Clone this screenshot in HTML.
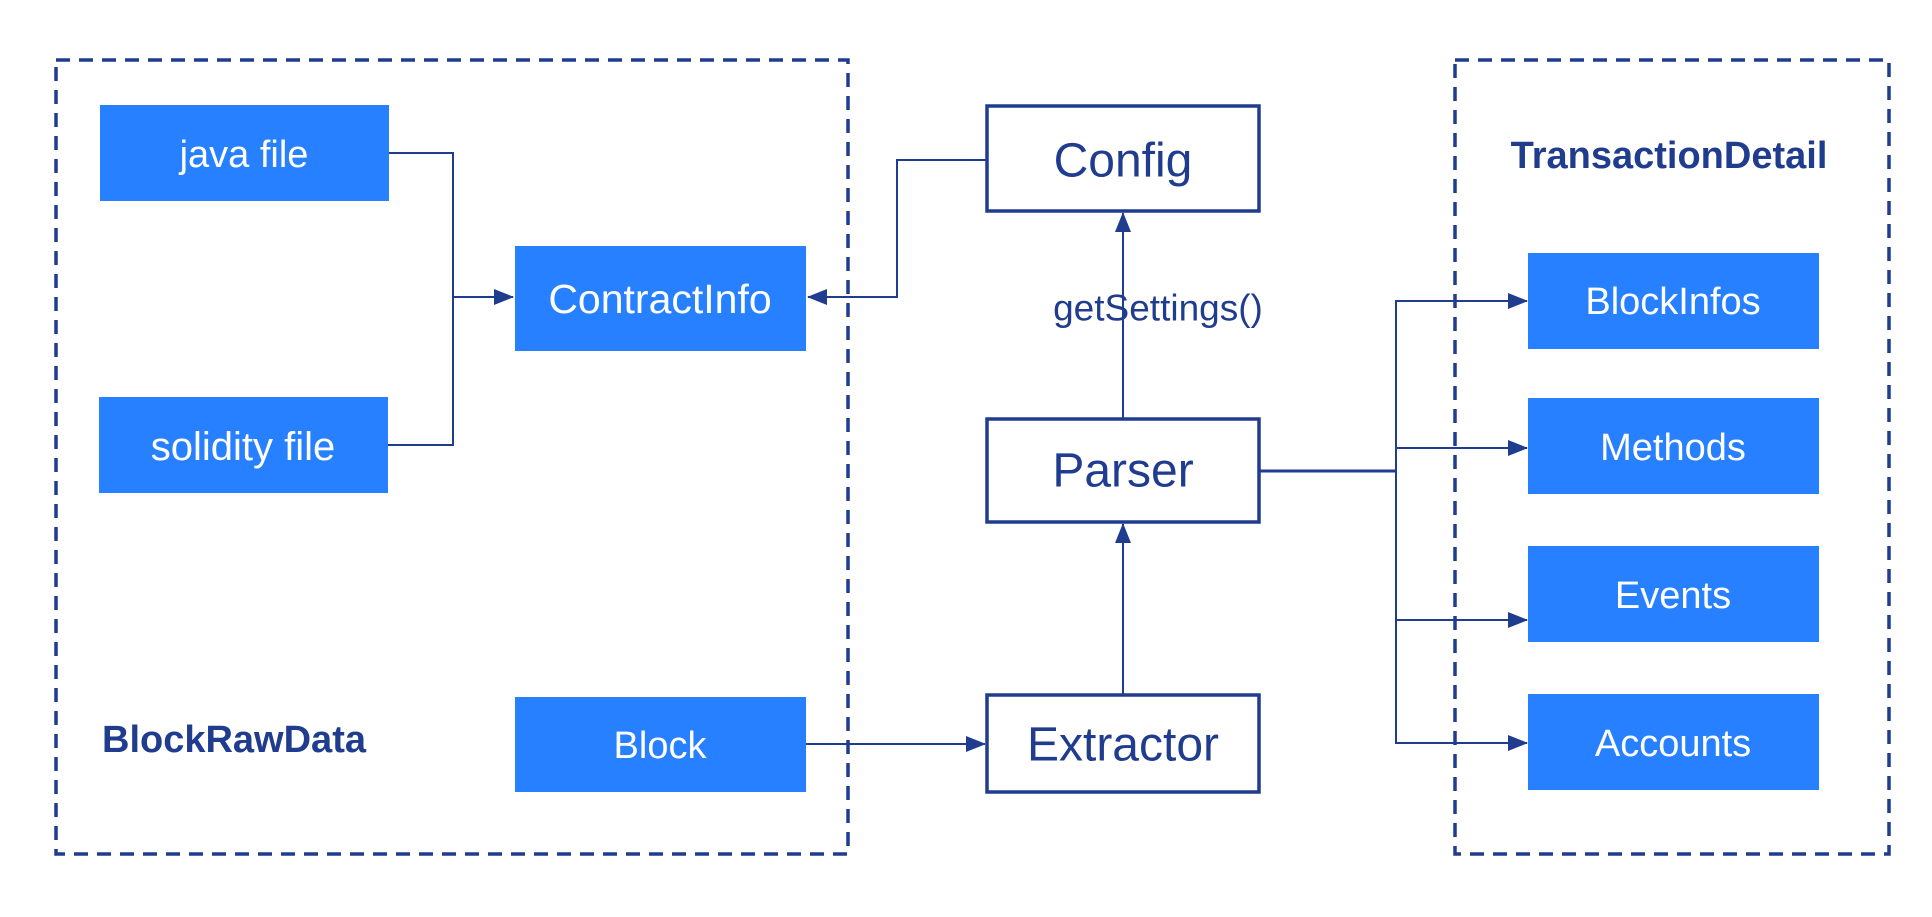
<!DOCTYPE html>
<html><head><meta charset="utf-8"><style>
body{margin:0;background:#fff;}
svg text{font-family:"Liberation Sans",sans-serif;}
</style></head><body>
<svg width="1932" height="912" viewBox="0 0 1932 912" xmlns="http://www.w3.org/2000/svg">
<defs>
<marker id="b" markerWidth="20" markerHeight="16" refX="19" refY="8" orient="auto" markerUnits="userSpaceOnUse"><path d="M0,0 L20,8 L0,16 z" fill="#1f3c8f"/></marker>
</defs>
<g fill="none" stroke="#1f3c8f" stroke-width="3.5" stroke-dasharray="14,9">
<rect x="56" y="60" width="792" height="794"/>
<rect x="1455" y="60" width="434" height="794"/>
</g>
<g fill="#2680ff">
<rect x="100" y="105" width="289" height="96"/>
<rect x="99" y="397" width="289" height="96"/>
<rect x="515" y="246" width="291" height="105"/>
<rect x="515" y="697" width="291" height="95"/>
<rect x="1528" y="253" width="291" height="96"/>
<rect x="1528" y="398" width="291" height="96"/>
<rect x="1528" y="546" width="291" height="96"/>
<rect x="1528" y="694" width="291" height="96"/>
</g>
<g fill="#fff" stroke="#1f3c8f" stroke-width="3.5">
<rect x="987" y="106" width="272" height="105"/>
<rect x="987" y="419" width="272" height="103"/>
<rect x="987" y="695" width="272" height="97"/>
</g>
<g fill="none" stroke="#1f3c8f" stroke-width="2">
<polyline points="389,153 453,153 453,445 388,445"/>
<line x1="453" y1="297" x2="513" y2="297" marker-end="url(#b)"/>
<polyline points="986,160 897,160 897,297 808,297" marker-end="url(#b)"/>
<line x1="1123" y1="418" x2="1123" y2="213" marker-end="url(#b)"/>
<line x1="1123" y1="694" x2="1123" y2="524" marker-end="url(#b)"/>
<line x1="806" y1="744" x2="985" y2="744" marker-end="url(#b)"/>
<polyline points="1259,471 1396,471" stroke-width="3"/>
<line x1="1396" y1="300" x2="1396" y2="744"/>
<line x1="1396" y1="301" x2="1527" y2="301" marker-end="url(#b)"/>
<line x1="1396" y1="448" x2="1527" y2="448" marker-end="url(#b)"/>
<line x1="1396" y1="620" x2="1527" y2="620" marker-end="url(#b)"/>
<line x1="1396" y1="743" x2="1527" y2="743" marker-end="url(#b)"/>
</g>
<g fill="#fff" font-size="38" text-anchor="middle" dominant-baseline="central">
<text x="244" y="155">java file</text>
<text x="243" y="447" font-size="40">solidity file</text>
<text x="660" y="299" font-size="41">ContractInfo</text>
<text x="660" y="746">Block</text>
<text x="1673" y="302">BlockInfos</text>
<text x="1673" y="448">Methods</text>
<text x="1673" y="596">Events</text>
<text x="1673" y="744">Accounts</text>
</g>
<g fill="#1f3c8f" text-anchor="middle" dominant-baseline="central">
<text x="1123" y="161" font-size="48">Config</text>
<text x="1123" y="471" font-size="48">Parser</text>
<text x="1123" y="745" font-size="48">Extractor</text>
<text x="1158" y="308" font-size="37">getSettings()</text>
<text x="1669" y="156" font-size="38" font-weight="bold">TransactionDetail</text>
</g>
<text x="102" y="740" font-size="38" font-weight="bold" fill="#1f3c8f" dominant-baseline="central">BlockRawData</text>
</svg>
</body></html>
